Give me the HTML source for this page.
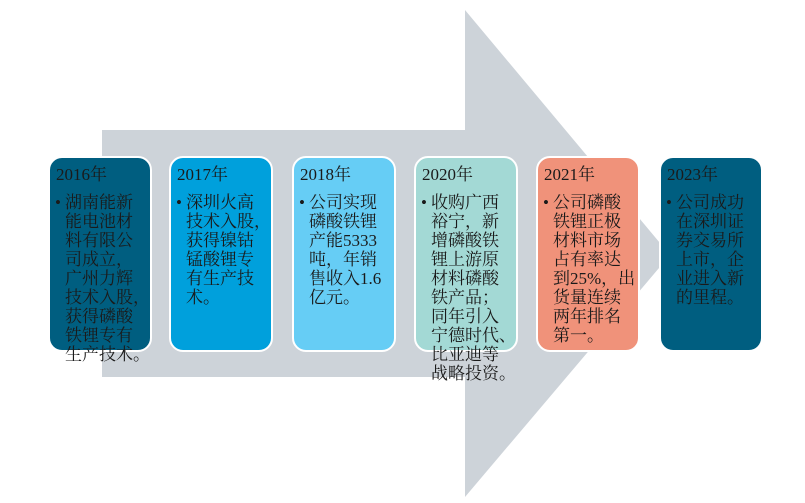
<!DOCTYPE html>
<html><head><meta charset="utf-8"><style>
body{margin:0;width:805px;height:503px;background:#fff;position:relative;overflow:hidden;font-family:"Liberation Serif","Noto Serif CJK SC","Noto Sans CJK SC",serif;color:#1a1a1a}
.b{position:absolute;top:156px;width:104px;height:196px;border:2px solid #fff;border-radius:14px;box-sizing:border-box}
.t{position:absolute;top:165px;font-size:17px;line-height:19px;white-space:nowrap}
.t .y{margin-left:6px;margin-bottom:9px}
.t .l{position:relative;padding-left:15px}
.t .l:before{content:"•";position:absolute;left:5px;top:0}
</style></head><body>
<svg width="805" height="503" style="position:absolute;left:0;top:0">
<polygon points="102,130 465,130 465,10 670,255 465,497 465,377 102,377" fill="#cdd3d9"/>
</svg>
<div class="b" style="left:48px;background:#005e80"></div>
<div class="b" style="left:169px;background:#00a0dc"></div>
<div class="b" style="left:292px;background:#66cdf5"></div>
<div class="b" style="left:414px;background:#a3d9d5"></div>
<div class="b" style="left:536px;background:#f0927a"></div>
<div class="b" style="left:659px;background:#005e80"></div>
<div class="t" style="left:50px"><div class="y">2016年</div><div class="l">湖南能新<br>能电池材<br>料有限公<br>司成立，<br>广州力辉<br>技术入股，<br>获得磷酸<br>铁锂专有<br>生产技术。</div></div>
<div class="t" style="left:171px"><div class="y">2017年</div><div class="l">深圳火高<br>技术入股，<br>获得镍钴<br>锰酸锂专<br>有生产技<br>术。</div></div>
<div class="t" style="left:294px"><div class="y">2018年</div><div class="l">公司实现<br>磷酸铁锂<br>产能5333<br>吨，年销<br>售收入1.6<br>亿元。</div></div>
<div class="t" style="left:416px"><div class="y">2020年</div><div class="l">收购广西<br>裕宁，新<br>增磷酸铁<br>锂上游原<br>材料磷酸<br>铁产品；<br>同年引入<br>宁德时代、<br>比亚迪等<br>战略投资。</div></div>
<div class="t" style="left:538px"><div class="y">2021年</div><div class="l">公司磷酸<br>铁锂正极<br>材料市场<br>占有率达<br>到25%，出<br>货量连续<br>两年排名<br>第一。</div></div>
<div class="t" style="left:661px"><div class="y">2023年</div><div class="l">公司成功<br>在深圳证<br>券交易所<br>上市，企<br>业进入新<br>的里程。</div></div>
</body></html>
